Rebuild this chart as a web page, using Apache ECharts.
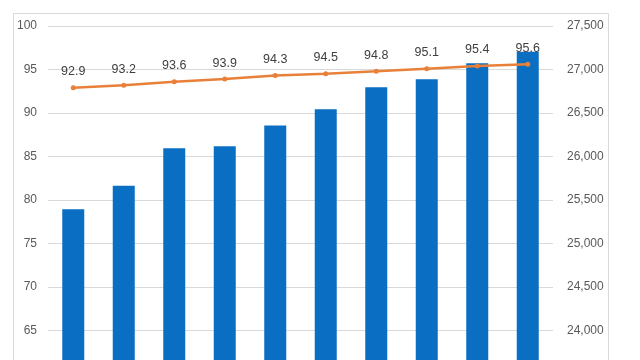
<!DOCTYPE html>
<html>
<head>
<meta charset="utf-8">
<script src="https://cdn.jsdelivr.net/npm/echarts@6/dist/echarts.min.js"></script>
<style>
html,body{margin:0;padding:0;background:#fff;overflow:hidden;}
#chart{width:640px;height:400px;}
</style>
</head>
<body>
<div id="chart"></div>
<script>
var categories = ['1','2','3','4','5','6','7','8','9','10'];
var barValues = [25395, 25665, 26095, 26118, 26355, 26542, 26795, 26887, 27071, 27205];
var lineValues = [92.9, 93.2, 93.6, 93.9, 94.3, 94.5, 94.8, 95.1, 95.4, 95.6];
var leftTicks = {min: 60, max: 100, interval: 5};
var rightTicks = {min: 23500, max: 27500, interval: 500};

var chart = echarts.init(document.getElementById('chart'));
var font = '"Liberation Sans", Arial, sans-serif';
chart.setOption({
  animation: false,
  backgroundColor: '#ffffff',
  graphic: [{
    type: 'rect',
    shape: {x: 13.5, y: 13.5, width: 595, height: 420},
    style: {fill: 'none', stroke: '#d9d9d9', lineWidth: 1},
    silent: true
  }],
  grid: {left: 48, right: 87, top: 26, bottom: 26},
  xAxis: {
    type: 'category',
    data: categories,
    axisLine: {show: false},
    axisTick: {show: false},
    axisLabel: {show: false}
  },
  yAxis: [{
    type: 'value',
    min: leftTicks.min, max: leftTicks.max, interval: leftTicks.interval,
    axisLine: {show: false}, axisTick: {show: false},
    axisLabel: {color: '#595959', fontSize: 12, fontFamily: font, margin: 11},
    splitLine: {lineStyle: {color: '#d9d9d9', width: 1}}
  }, {
    type: 'value',
    min: rightTicks.min, max: rightTicks.max, interval: rightTicks.interval,
    axisLine: {show: false}, axisTick: {show: false},
    axisLabel: {
      color: '#595959', fontSize: 12, fontFamily: font, margin: 14,
      formatter: function (v) { return v.toLocaleString('en-US'); }
    },
    splitLine: {show: false}
  }],
  series: [{
    type: 'bar',
    yAxisIndex: 1,
    data: barValues,
    barWidth: 22,
    itemStyle: {color: '#0A6FC2'},
    z: 1
  }, {
    type: 'line',
    yAxisIndex: 0,
    data: lineValues,
    symbol: 'circle',
    symbolSize: 5,
    lineStyle: {color: '#E9803A', width: 2.5},
    itemStyle: {color: '#E9803A'},
    label: {
      show: true, position: 'top', distance: 7,
      color: '#404040', fontSize: 12.5, fontFamily: font,
      formatter: function (p) { return p.value.toFixed(1); }
    },
    z: 3
  }]
});
</script>
</body>
</html>
